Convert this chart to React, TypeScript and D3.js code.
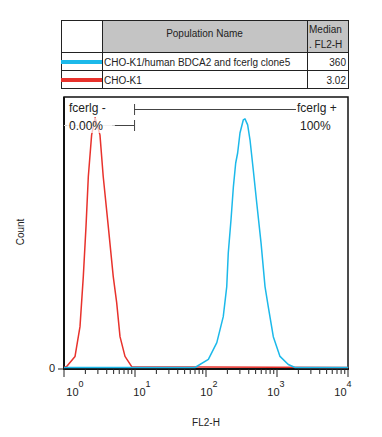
import React from "react";
import * as d3 from "d3";

const populations = ["CHO-K1/human BDCA2 and fcerlg clone5", "CHO-K1"];
const medians = ["360", "3.02"];
const colors = ["#1cb9ea", "#e8322c"];

// Red (CHO-K1) histogram: FL2-H values and counts
const redX = [1, 1.09, 1.43, 1.68, 1.87, 2.04, 2.2, 2.45, 2.74, 3.21, 3.57, 4.21, 4.94, 5.52, 6.15, 7.23, 8.99, 10000];
const redY = [0, 0.4, 4.1, 15.1, 33.6, 52, 70.5, 86, 92.3, 86, 70.5, 52, 33.6, 24, 11.4, 4.1, 0.3, 0];

// Blue (clone5) histogram
const blueX = [1, 70, 108, 142, 175, 196, 206, 225, 243, 262, 279, 301, 335, 354, 386, 417, 463, 518, 596, 678, 753, 887, 1102, 1442, 1795, 10000];
const blueY = [0, 0, 3, 9.2, 18.8, 29.9, 42.4, 54.6, 66.8, 75.6, 79.3, 86.7, 91.5, 91.9, 89.7, 84.1, 73.1, 60.9, 46.1, 29.9, 22.5, 11.4, 4.1, 1.1, 0, 0];

const decades = [1, 10, 100, 1000, 10000];
const exponents = ["0", "1", "2", "3", "4"];

const gateNeg = { label: "fcerlg -", pct: "0.00%", from: 5.2, to: 9.7 };
const gatePos = { label: "fcerlg +", pct: "100%", from: 9.7, to: 1850 };

const FONT = "'Liberation Sans', Arial, sans-serif";

export default function App() {
  const L = 64, R = 348, T = 97, B = 369;
  const x = d3.scaleLog().domain([1, 10000]).range([L, R]);
  const xl = d3.scaleLog().domain([1, 10000]).range([L + 11, R - 5]);
  const y = d3.scaleLinear().domain([0, 100]).range([B - 1.5, T]);

  const line = d3
    .line<[number, number]>()
    .x((d) => x(d[0]))
    .y((d) => y(d[1]));

  const redPath = line(redX.map((v, i) => [v, redY[i]]) as [number, number][]) || "";
  const bluePath = line(blueX.map((v, i) => [v, blueY[i]]) as [number, number][]) || "";

  const minor: number[] = [];
  for (let d = 0; d < 4; d++) {
    for (let k = 2; k <= 9; k++) minor.push(k * Math.pow(10, d));
  }

  // table geometry
  const tL = 61, tR = 348, tTop = 20, hB = 52, r1B = 70, r2B = 88;
  const c1 = 102, c2 = 307;

  const gx = x(gateNeg.to);

  return (
    <svg width={382} height={437} style={{ position: "absolute", left: 0, top: 0 }} fontFamily={FONT}>
      <rect x={0} y={0} width={382} height={437} fill="#fff" />
      {/* Table */}
      <rect x={c1} y={tTop} width={c2 - c1} height={hB - tTop} fill="#c4c4c4" />
      <rect x={c2 + 1} y={tTop} width={tR - c2 - 1} height={hB - tTop} fill="#c4c4c4" />
      <g stroke="#222" strokeWidth={1} fill="none">
        <rect x={tL + 0.5} y={tTop + 0.5} width={tR - tL} height={r2B - tTop} />
        <line x1={tL} x2={tR} y1={hB + 0.5} y2={hB + 0.5} />
        <line x1={tL} x2={tR} y1={r1B + 0.5} y2={r1B + 0.5} />
        <line x1={c1 + 0.5} x2={c1 + 0.5} y1={tTop} y2={r2B} />
        <line x1={c2 + 0.5} x2={c2 + 0.5} y1={tTop} y2={r2B} />
      </g>
      <text x={(c1 + c2) / 2} y={37} fontSize={10} textAnchor="middle" fill="#222">Population Name</text>
      <text x={c2 + 2} y={33} fontSize={10} fill="#222">Median</text>
      <text x={c2 + 2} y={48} fontSize={10} fill="#222">. FL2-H</text>
      {populations.map((p, i) => {
        const cy = i === 0 ? (hB + r1B) / 2 + 1 : (r1B + r2B) / 2 + 1;
        return (
          <g key={p}>
            <line x1={tL} x2={c1} y1={cy} y2={cy} stroke={colors[i]} strokeWidth={4} />
            <text x={c1 + 2} y={cy + 4} fontSize={10} fill="#222">{p}</text>
            <text x={tR - 2} y={cy + 4} fontSize={10} textAnchor="end" fill="#222">{medians[i]}</text>
          </g>
        );
      })}

      {/* Frame */}
      <rect x={L} y={T} width={R - L} height={B - T} fill="none" stroke="#111" strokeWidth={1.5} />
      <line x1={L} x2={L} y1={T} y2={B + 1} stroke="#111" strokeWidth={2} />
      <line x1={L - 1} x2={R + 1} y1={B} y2={B} stroke="#111" strokeWidth={2} />

      {/* Curves */}
      <path d={redPath} fill="none" stroke={colors[1]} strokeWidth={1.5} strokeLinejoin="round" />
      <path d={bluePath} fill="none" stroke={colors[0]} strokeWidth={1.5} strokeLinejoin="round" />

      {/* Gates */}
      <line x1={L} x2={x(gateNeg.from)} y1={125.5} y2={125.5} stroke="#d0d0d0" strokeWidth={1} />
      <g stroke="#444" strokeWidth={1}>
        <line x1={gx} x2={x(gatePos.to)} y1={109.5} y2={109.5} />
        <line x1={gx + 0.5} x2={gx + 0.5} y1={104} y2={115} />
        <line x1={x(gateNeg.from)} x2={gx} y1={125.5} y2={125.5} />
        <line x1={gx + 0.5} x2={gx + 0.5} y1={120} y2={131} />
      </g>
      <rect x={67} y={101} width={44} height={13} fill="#fff" opacity={0.85} />
      <rect x={67} y={118} width={45} height={15} fill="#fff" opacity={0.7} />
      <text x={69} y={112} fontSize={12} fill="#222">{gateNeg.label}</text>
      <text x={69} y={130} fontSize={12} fill="#222">{gateNeg.pct}</text>
      <rect x={x(gatePos.to) + 1} y={101} width={46} height={13} fill="#fff" />
      <text x={x(gatePos.to) + 1} y={112} fontSize={12} fill="#222">{gatePos.label}</text>
      <text x={300} y={130} fontSize={12} fill="#222">{gatePos.pct}</text>

      {/* X ticks */}
      {decades.map((d) => (
        <line key={"M" + d} x1={x(d)} x2={x(d)} y1={B} y2={B + 8} stroke="#222" strokeWidth={1} />
      ))}
      {minor.map((d) => (
        <line key={"m" + d} x1={x(d)} x2={x(d)} y1={B} y2={B + 5} stroke="#222" strokeWidth={1} />
      ))}
      {decades.map((d, i) => (
        <text key={"l" + d} x={xl(d)} y={396} fontSize={11} textAnchor="middle" fill="#222">
          10<tspan dy={-9} fontSize={9}>{exponents[i]}</tspan>
        </text>
      ))}
      {/* Y axis */}
      <line x1={L - 6} x2={L} y1={B} y2={B} stroke="#222" strokeWidth={1} />
      <text x={55} y={B + 3} fontSize={11} textAnchor="end" fill="#222">0</text>
      <text transform={`translate(24,${(T + B) / 2 - 1}) rotate(-90)`} fontSize={10} textAnchor="middle" fill="#222">Count</text>
      <text x={(L + R) / 2} y={426} fontSize={10} textAnchor="middle" fill="#222">FL2-H</text>
    </svg>
  );
}
